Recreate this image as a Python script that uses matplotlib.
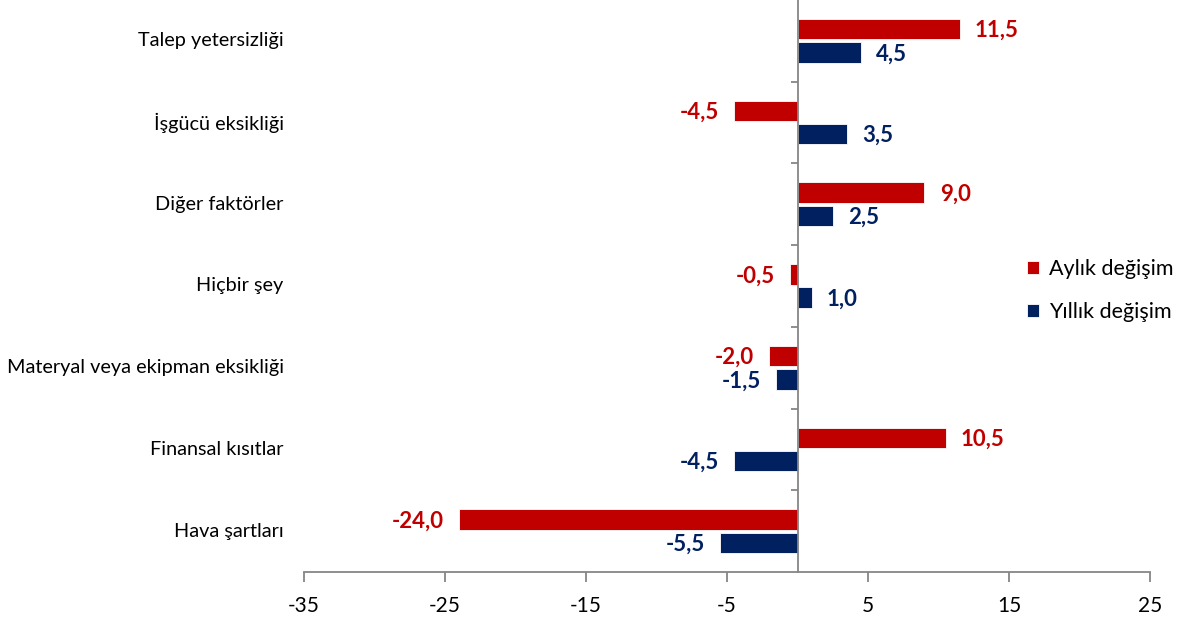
import matplotlib
matplotlib.use("Agg")
import matplotlib.pyplot as plt
import numpy as np

categories = ["Talep yetersizliği", "İşgücü eksikliği", "Diğer faktörler", "Hiçbir şey",
              "Materyal veya ekipman eksikliği", "Finansal kısıtlar", "Hava şartları"]
aylik = [11.5, -4.5, 9.0, -0.5, -2.0, 10.5, -24.0]
yillik = [4.5, 3.5, 2.5, 1.0, -1.5, -4.5, -5.5]
series_names = ["Aylık değişim", "Yıllık değişim"]
x_ticks = [-35, -25, -15, -5, 5, 15, 25]

RED = "#C00000"
BLUE = "#002060"
GRAY = "#868686"

plt.rcParams["font.family"] = ["Lato", "DejaVu Sans"]

fig = plt.figure(figsize=(11.84, 6.25), dpi=100)
ax = fig.add_axes([304 / 1184, 53 / 625, 846 / 1184, 572 / 625])

y = np.arange(len(categories))
h = 0.25
off = 0.142
ax.barh(y - off, aylik, height=h, color=RED, label=series_names[0], edgecolor="white", linewidth=0.6)
ax.barh(y + off, yillik, height=h, color=BLUE, label=series_names[1], edgecolor="white", linewidth=0.6)


def fmt(v):
    return f"{v:.1f}".replace(".", ",")


for vals, dy, col in ((aylik, -off, RED), (yillik, off, BLUE)):
    for i, v in enumerate(vals):
        ax.annotate(fmt(v), (v, i + dy), xytext=(11 if v >= 0 else -11, -1),
                    textcoords="offset points", ha="left" if v >= 0 else "right",
                    va="center", color=col, fontsize=16, fontweight="bold")

ax.set_xlim(-35, 25)
ax.set_ylim(len(categories) - 0.5, -0.5)
ax.set_xticks(x_ticks)
ax.set_xticklabels([str(t) for t in x_ticks], fontsize=15)

ax.set_yticks(np.arange(len(categories) - 1) + 0.5)
ax.set_yticklabels([])
ax.spines["left"].set_position(("data", 0))
for s in ("top", "right"):
    ax.spines[s].set_visible(False)
for s in ("left", "bottom"):
    ax.spines[s].set_color(GRAY)
    ax.spines[s].set_linewidth(1.3)
ax.tick_params(axis="y", direction="out", length=5, color=GRAY, width=1.3)
ax.tick_params(axis="x", direction="out", length=7, color=GRAY, width=1.3, pad=10)

for i, c in enumerate(categories):
    ax.text(-0.024, i, c, transform=ax.get_yaxis_transform(), ha="right",
            va="center", fontsize=14.3)

leg = fig.legend(loc="upper left", bbox_to_anchor=(1008 / 1184, 1 - 240 / 625),
                 frameon=False, fontsize=15.5, handlelength=0.55, handleheight=0.55,
                 labelspacing=1.05, handletextpad=0.45)

fig.savefig("out.png", dpi=100)
